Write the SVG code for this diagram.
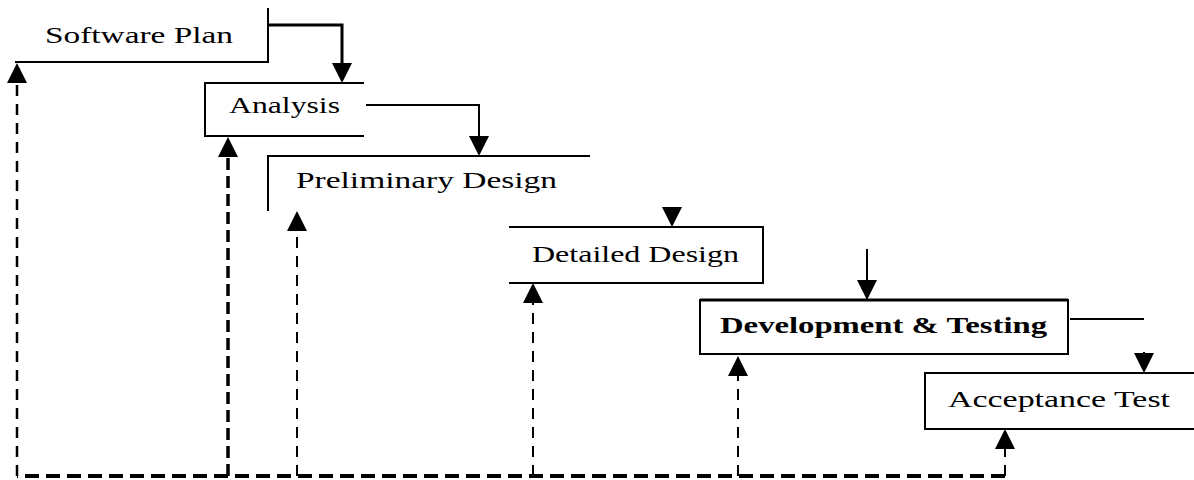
<svg xmlns="http://www.w3.org/2000/svg" width="1194" height="480" viewBox="0 0 1194 480">
<style>
  .t { font-family: "Liberation Serif", "Times New Roman", serif; font-size: 24px; fill: #000; }
  .b { font-weight: bold; }
  .ln { fill: none; stroke: #000; stroke-width: 2; }
  .thick { stroke-width: 3; }
  .dash { fill: none; stroke: #000; stroke-width: 2; stroke-dasharray: 11 8; }
  .dashb { fill: none; stroke: #000; stroke-width: 4; stroke-dasharray: 14 7; }
  .dashm { fill: none; stroke: #000; stroke-width: 3.5; stroke-dasharray: 12 6; }
</style>
<defs>
  <marker id="ah" viewBox="0 0 20 20" refX="10" refY="10" markerWidth="20" markerHeight="20" markerUnits="userSpaceOnUse" orient="auto">
    <path d="M0,0 L20,10 L0,20 Z" fill="#000"/>
  </marker>
</defs>
<rect width="1194" height="480" fill="#fff"/>

<g id="software-plan">
  <polyline class="ln" points="15,62 268,62 268,8"/>
  <text class="t" x="45" y="43" textLength="188" lengthAdjust="spacingAndGlyphs">Software Plan</text>
</g>
<g id="analysis">
  <polyline class="ln" points="364,83 205,83 205,136 364,136"/>
  <text class="t" x="229" y="113" textLength="111" lengthAdjust="spacingAndGlyphs">Analysis</text>
</g>
<g id="preliminary-design">
  <polyline class="ln" points="268,211 268,156 590,156"/>
  <text class="t" x="296" y="188" textLength="261" lengthAdjust="spacingAndGlyphs">Preliminary Design</text>
</g>
<g id="detailed-design">
  <polyline class="ln" points="509,227 763,227 763,283 509,283"/>
  <text class="t" x="532" y="262" textLength="207" lengthAdjust="spacingAndGlyphs">Detailed Design</text>
</g>
<g id="development-testing">
  <rect class="ln" x="700" y="300" width="368" height="54"/>
  <line class="ln thick" x1="700" y1="300" x2="1068" y2="300"/>
  <text class="t b" x="720" y="333" textLength="327" lengthAdjust="spacingAndGlyphs">Development &amp; Testing</text>
</g>
<g id="acceptance-test">
  <polyline class="ln" points="1196,373 925,373 925,429 1196,429"/>
  <text class="t" x="948" y="407" textLength="222" lengthAdjust="spacingAndGlyphs">Acceptance Test</text>
</g>

<g id="connectors">
  <polyline class="ln thick" points="268,25 342,25 342,73" marker-end="url(#ah)"/>
  <polyline class="ln" points="366,105 479,105 479,146" marker-end="url(#ah)"/>
  <line class="ln" x1="672" y1="208" x2="672" y2="217" marker-end="url(#ah)"/>
  <line class="ln" x1="867" y1="249" x2="867" y2="290" marker-end="url(#ah)"/>
  <line class="ln" x1="1070" y1="319" x2="1144" y2="319"/>
  <line class="ln" x1="1144" y1="352" x2="1144" y2="363" marker-end="url(#ah)"/>

  <polyline class="dashb" points="1005,476 17,476"/>
  <line class="dash" x1="17" y1="476" x2="17" y2="73" style="stroke-width:2.5" marker-end="url(#ah)"/>
  <line class="dashm" x1="228" y1="476" x2="228" y2="147" marker-end="url(#ah)"/>
  <line class="dash" x1="297" y1="476" x2="297" y2="221" marker-end="url(#ah)"/>
  <line class="dash" x1="533" y1="476" x2="533" y2="293" marker-end="url(#ah)"/>
  <line class="dash" x1="738" y1="476" x2="738" y2="366" marker-end="url(#ah)"/>
  <line class="dash" x1="1005" y1="476" x2="1005" y2="439" marker-end="url(#ah)"/>
</g>
</svg>
